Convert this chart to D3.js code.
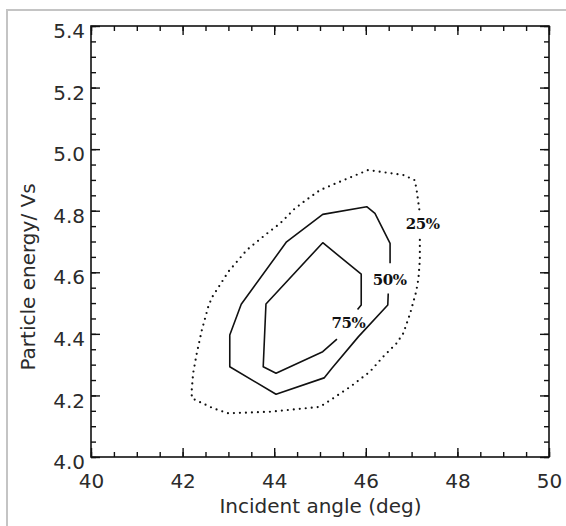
<!DOCTYPE html>
<html>
<head>
<meta charset="utf-8">
<script src="https://cdn.jsdelivr.net/npm/d3@7"></script>
<style>
  html, body { margin: 0; padding: 0; background: #fff; }
  svg { display: block; }
  .tick-label { font-family: 'DejaVu Sans', sans-serif; font-size: 20px; fill: #2b2b2b; }
  .axis-title { font-family: 'DejaVu Sans', sans-serif; font-size: 20px; fill: #2b2b2b; }
  .contour-label { font-family: 'DejaVu Serif', serif; font-size: 15px; font-weight: bold; fill: #111; letter-spacing: -0.5px; }
</style>
</head>
<body>
<script>
'use strict';

// axis ticks
var xMajor = [40, 42, 44, 46, 48, 50];
var yMajor = [4.0, 4.2, 4.4, 4.6, 4.8, 5.0, 5.2, 5.4];

// contour lines: [incident angle (deg), particle energy / Vs]
var contour25 = [
  [47.18, 4.705], [47.18, 4.640], [47.15, 4.580], [47.10, 4.537], [46.97, 4.467],
  [46.82, 4.402], [46.67, 4.369], [46.38, 4.326], [46.09, 4.277], [45.66, 4.228],
  [45.29, 4.191], [45.00, 4.163], [44.67, 4.158], [43.91, 4.147], [43.00, 4.142],
  [42.67, 4.158], [42.20, 4.191], [42.20, 4.218], [42.23, 4.272], [42.31, 4.337],
  [42.42, 4.412], [42.56, 4.488], [42.64, 4.518], [43.00, 4.602], [43.40, 4.672],
  [43.80, 4.721], [44.13, 4.759], [44.45, 4.807], [44.69, 4.834], [45.00, 4.867],
  [45.51, 4.899], [46.05, 4.932], [46.82, 4.916], [47.07, 4.899], [47.11, 4.867],
  [47.15, 4.824], [47.18, 4.791]
];
var contour50 = [
  [46.49, 4.531], [46.48, 4.494], [45.84, 4.391], [45.26, 4.288], [45.09, 4.257],
  [44.04, 4.204], [43.03, 4.293], [43.03, 4.396], [43.28, 4.496], [44.27, 4.699],
  [45.06, 4.788], [46.02, 4.813], [46.20, 4.791], [46.53, 4.694], [46.53, 4.629]
];
var contour75 = [
  [45.37, 4.383], [45.06, 4.342], [44.04, 4.272], [43.76, 4.293], [43.82, 4.497],
  [45.06, 4.696], [45.90, 4.594], [45.90, 4.494], [45.82, 4.479]
];

var levelNames = ['25%', '50%', '75%'];
var labelPos = [[47.24, 4.756], [46.52, 4.575], [45.62, 4.434]];

var W = 566, H = 526;
var margin = { top: 26, right: 17, bottom: 69, left: 91 };
var width = W - margin.left - margin.right;
var height = H - margin.top - margin.bottom;

var svg = d3.select('body').append('svg')
  .attr('width', W)
  .attr('height', H);

// grey scan frame (top and left only)
svg.append('path')
  .attr('d', 'M7,526 L7,10 L566,10')
  .attr('fill', 'none')
  .attr('stroke', '#c4c4c4')
  .attr('stroke-width', 2);

var g = svg.append('g')
  .attr('transform', 'translate(' + margin.left + ',' + margin.top + ')');

var x = d3.scaleLinear().domain([40, 50]).range([0, width]);
var y = d3.scaleLinear().domain([4.0, 5.4]).range([height, 0]);

var xMinor = d3.range(40, 50.001, 0.5);
var yMinor = d3.range(4.0, 5.4001, 0.05);

function styleAxis(sel) {
  sel.select('.domain').remove();
  sel.selectAll('line').attr('stroke', '#111').attr('stroke-width', 1.4);
}

// bottom
g.append('g').attr('transform', 'translate(0,' + height + ')')
  .call(d3.axisBottom(x).tickValues(xMinor).tickSizeInner(-5).tickSizeOuter(0).tickFormat(''))
  .call(styleAxis);
var xb = g.append('g').attr('transform', 'translate(0,' + height + ')')
  .call(d3.axisBottom(x).tickValues(xMajor).tickSizeInner(-9).tickSizeOuter(0).tickPadding(17)
    .tickFormat(d3.format('d')))
  .call(styleAxis);
xb.selectAll('text').attr('class', 'tick-label').attr('font-size', null).attr('font-family', null);

// top
g.append('g')
  .call(d3.axisTop(x).tickValues(xMinor).tickSizeInner(-5).tickSizeOuter(0).tickFormat(''))
  .call(styleAxis);
g.append('g')
  .call(d3.axisTop(x).tickValues(xMajor).tickSizeInner(-9).tickSizeOuter(0).tickFormat(''))
  .call(styleAxis);

// left
g.append('g')
  .call(d3.axisLeft(y).tickValues(yMinor).tickSizeInner(-5).tickSizeOuter(0).tickFormat(''))
  .call(styleAxis);
var yl = g.append('g')
  .call(d3.axisLeft(y).tickValues(yMajor).tickSizeInner(-9).tickSizeOuter(0).tickPadding(6)
    .tickFormat(d3.format('.1f')))
  .call(styleAxis);
yl.selectAll('text').attr('class', 'tick-label').attr('font-size', null).attr('font-family', null)
  .attr('dy', '0.58em');

// right
g.append('g').attr('transform', 'translate(' + width + ',0)')
  .call(d3.axisRight(y).tickValues(yMinor).tickSizeInner(-5).tickSizeOuter(0).tickFormat(''))
  .call(styleAxis);
g.append('g').attr('transform', 'translate(' + width + ',0)')
  .call(d3.axisRight(y).tickValues(yMajor).tickSizeInner(-9).tickSizeOuter(0).tickFormat(''))
  .call(styleAxis);

// plot frame
g.append('rect')
  .attr('width', width)
  .attr('height', height)
  .attr('fill', 'none')
  .attr('stroke', '#111')
  .attr('stroke-width', 1.6);

var line = d3.line()
  .x(function(d) { return x(d[0]); })
  .y(function(d) { return y(d[1]); });

// 25% dotted
g.append('path')
  .datum(contour25)
  .attr('d', line)
  .attr('fill', 'none')
  .attr('stroke', '#111')
  .attr('stroke-width', 2.2)
  .attr('stroke-linecap', 'round')
  .attr('stroke-dasharray', '0,6');

// 50% and 75% solid
[contour50, contour75].forEach(function(c) {
  g.append('path')
    .datum(c)
    .attr('d', line)
    .attr('fill', 'none')
    .attr('stroke', '#111')
    .attr('stroke-width', 1.6)
    .attr('stroke-linejoin', 'round');
});

g.selectAll('.contour-label')
  .data(levelNames)
  .enter().append('text')
  .attr('class', 'contour-label')
  .attr('x', function(d, i) { return x(labelPos[i][0]); })
  .attr('y', function(d, i) { return y(labelPos[i][1]); })
  .attr('text-anchor', 'middle')
  .attr('dominant-baseline', 'central')
  .text(function(d) { return d; });

// axis titles
svg.append('text')
  .attr('class', 'axis-title')
  .attr('x', 320.5)
  .attr('y', 513)
  .attr('text-anchor', 'middle')
  .text('Incident angle (deg)');

svg.append('text')
  .attr('class', 'axis-title')
  .attr('transform', 'translate(35,277) rotate(-90)')
  .attr('text-anchor', 'middle')
  .text('Particle energy/ Vs');
</script>
</body>
</html>
